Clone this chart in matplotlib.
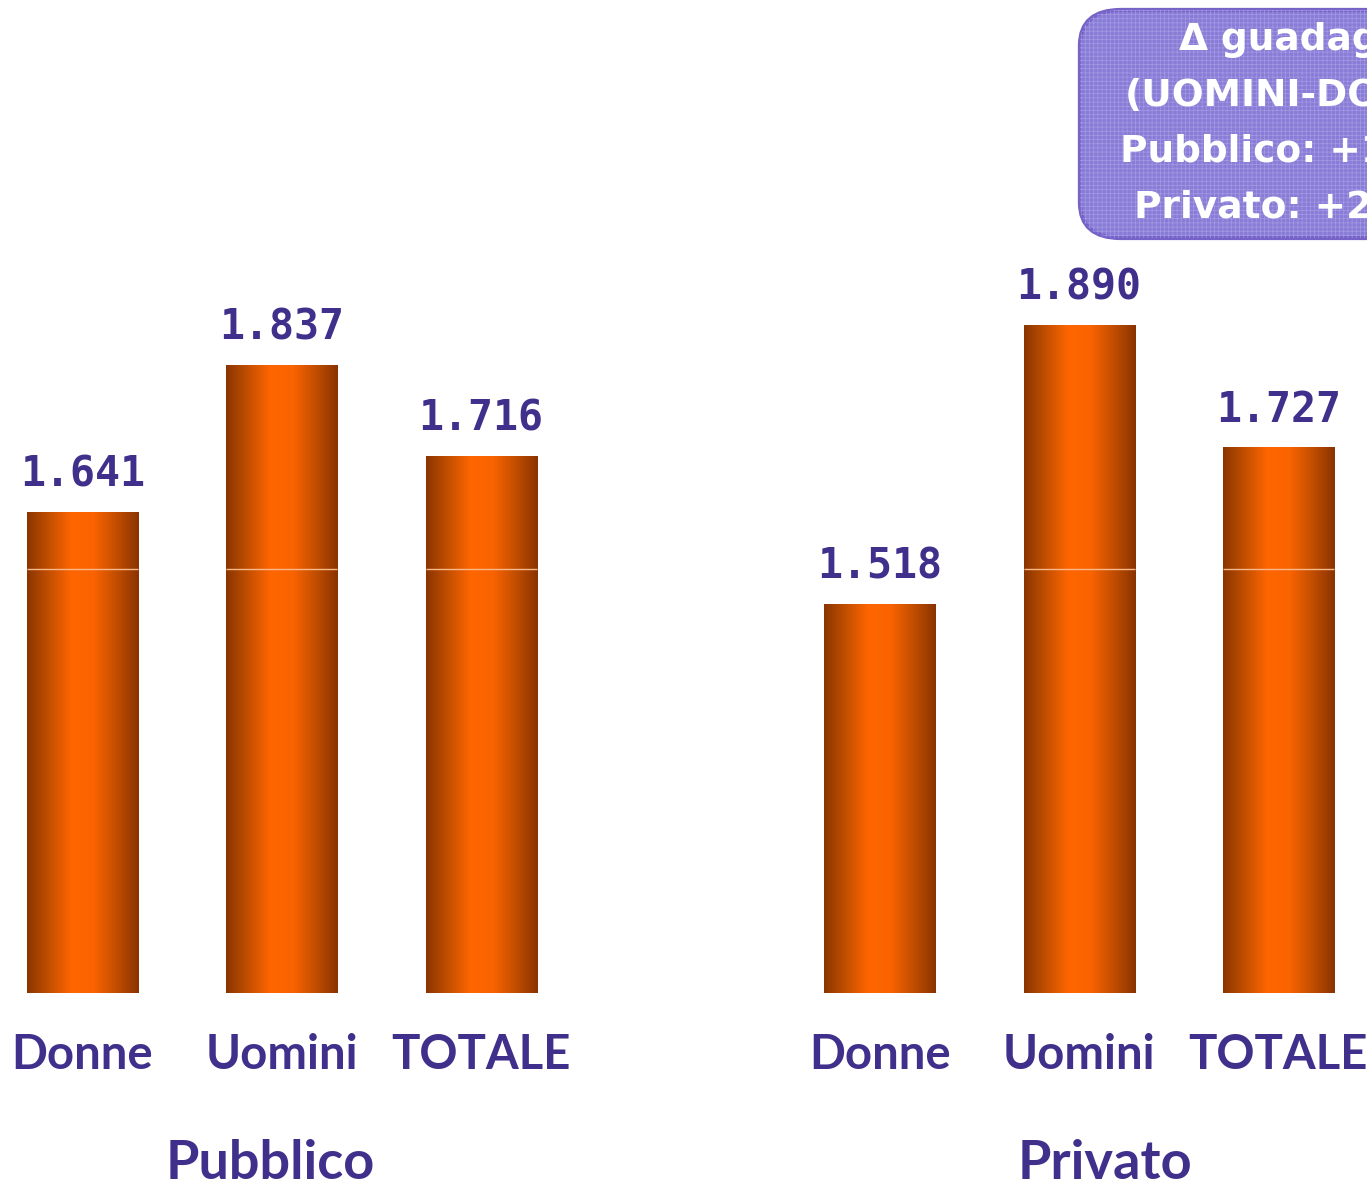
import numpy as np
import matplotlib.pyplot as plt
from matplotlib.colors import LinearSegmentedColormap
from matplotlib.patches import FancyBboxPatch

categories = ["Donne", "Uomini", "TOTALE", "Donne", "Uomini", "TOTALE"]
values = [1641, 1837, 1716, 1518, 1890, 1727]
value_labels = ["1.641", "1.837", "1.716", "1.518", "1.890", "1.727"]
positions = [0, 1, 2, 4, 5, 6]
groups = ["Pubblico", "Privato"]
group_pos = [0.94, 5.13]
box_lines = ["\u0394 guadagno", "(UOMINI-DONNE)", "Pubblico: +11,9%", "Privato: +24,5%"]

purple = "#40308c"
base = 1000
width = 0.557
line_level = 1565

plt.rcParams["hatch.linewidth"] = 0.5
fig = plt.figure(figsize=(13.67, 11.86), dpi=100)
ax = fig.add_axes([0, 0, 1, 1])
ax.set_axis_off()

cmap = LinearSegmentedColormap.from_list(
    "bar", ["#8a3500", "#c45000", "#ff6600", "#f96300", "#c24e00", "#8a3300"])
grad = np.linspace(0, 1, 256).reshape(1, -1)

for x, v, lab, cat in zip(positions, values, value_labels, categories):
    ax.imshow(grad, cmap=cmap, aspect="auto", interpolation="bilinear",
              extent=[x - width / 2, x + width / 2, base, v], zorder=2)
    if v > line_level:
        ax.hlines(line_level, x - width / 2, x + width / 2,
                  colors="#f7b88a", linewidth=1, zorder=3)
    ax.annotate(lab, (x, v), xytext=(0, 12), textcoords="offset points",
                ha="center", va="bottom", fontsize=30, fontweight="bold",
                family="DejaVu Sans Mono", color=purple)
    ax.text(x, 917, cat, ha="center", va="center", fontsize=34,
            fontweight="bold", family="Lato", color=purple)

for gx, g in zip(group_pos, groups):
    ax.text(gx, 751, g, ha="center", va="baseline", fontsize=39,
            fontweight="bold", family="Lato", color=purple)

ax.set_xlim(-0.414, 6.445)
ax.set_ylim(742, 2324)

# callout box
box = FancyBboxPatch((0.790, 0.7993), 0.3, 0.1923,
                     boxstyle="round,pad=0,rounding_size=0.03",
                     transform=fig.transFigure, facecolor="#897cd6",
                     edgecolor="#7762c8", linewidth=3, zorder=5)
fig.patches.append(box)
hatch = FancyBboxPatch((0.790, 0.7993), 0.3, 0.1923,
                       boxstyle="round,pad=0,rounding_size=0.03",
                       transform=fig.transFigure, facecolor="none",
                       edgecolor="#a39ae4", linewidth=0, hatch="++++",
                       zorder=6)
fig.patches.append(hatch)

for i, line in enumerate(box_lines):
    fig.text(0.955, 0.966 - i * 0.0472, line, ha="center", va="center",
             fontsize=27, fontweight="bold", family="DejaVu Sans",
             color="white", zorder=7)

fig.savefig("out.png", dpi=100)
